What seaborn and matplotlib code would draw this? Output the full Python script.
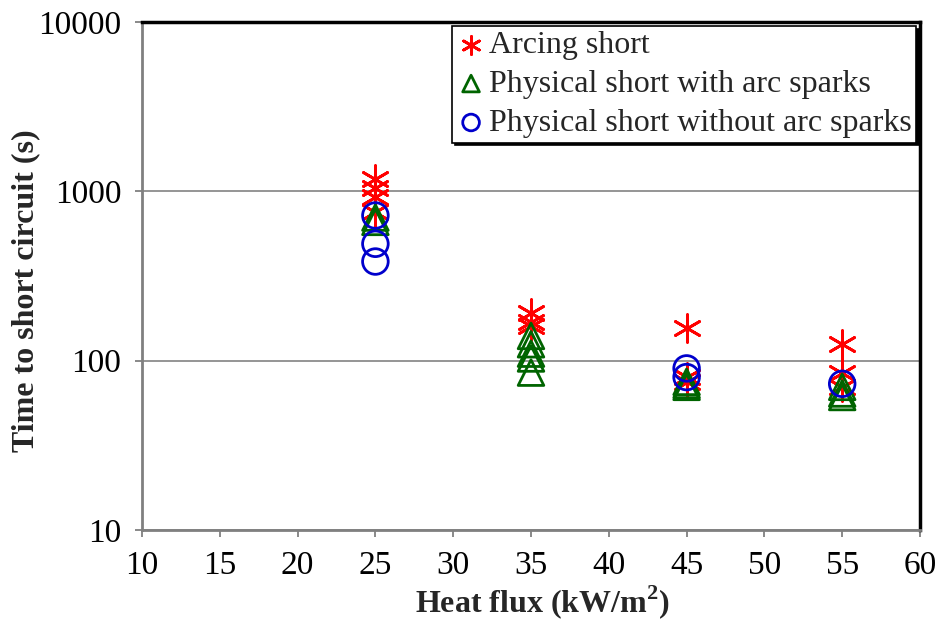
import matplotlib
matplotlib.use("Agg")
import matplotlib.pyplot as plt
import seaborn as sns
import pandas as pd

sns.set_theme(style="white")
plt.rcParams["font.family"] = ["Liberation Serif", "DejaVu Serif"]
plt.rcParams["mathtext.fontset"] = "custom"
plt.rcParams["mathtext.rm"] = "Liberation Serif"
plt.rcParams["mathtext.bf"] = "Liberation Serif:bold"

# Time to short circuit (s) by heat flux (kW/m2)
arcing_flux = [25, 25, 25, 25, 35, 35, 35, 45, 45, 45, 55, 55, 55]
arcing_time = [1180, 1050, 930, 760, 190, 170, 160, 155, 80, 75, 125, 85, 70]

sparks_flux = [25, 25, 35, 35, 35, 35, 35, 45, 45, 45, 55, 55, 55]
sparks_time = [700, 660, 140, 125, 110, 103, 85, 75, 72, 70, 70, 64, 61]

nospark_flux = [25, 25, 25, 45, 45, 55]
nospark_time = [720, 490, 385, 90, 80, 73]

series = ["Arcing short", "Physical short with arc sparks",
          "Physical short without arc sparks"]

df = pd.concat([
    pd.DataFrame({"flux": arcing_flux, "time": arcing_time, "type": series[0]}),
    pd.DataFrame({"flux": sparks_flux, "time": sparks_time, "type": series[1]}),
    pd.DataFrame({"flux": nospark_flux, "time": nospark_time, "type": series[2]}),
])

fig = plt.figure(figsize=(9.41, 6.19), dpi=100)
ax = fig.add_axes([142 / 941, 1 - 530 / 619, (920 - 142) / 941, (530 - 22) / 619])

ax.set_yscale("log")
ax.set_ylim(10, 10000)
ax.set_xlim(10, 60)

ax.yaxis.grid(True, which="major", color="#8c8c8c", linewidth=1.3)
ax.set_axisbelow(True)

size = 340
sub = df[df["type"] == series[0]]
sns.scatterplot(data=sub, x="flux", y="time", ax=ax, marker=(6, 2, 0),
                s=400, color="#ff0000", linewidth=2.0, label=series[0], zorder=3)
sub = df[df["type"] == series[1]]
sns.scatterplot(data=sub, x="flux", y="time", ax=ax, marker="^",
                s=size, facecolor="none", edgecolor="#006400", linewidth=2.0,
                label=series[1], zorder=4)
sub = df[df["type"] == series[2]]
sns.scatterplot(data=sub, x="flux", y="time", ax=ax, marker="o",
                s=size, facecolor="none", edgecolor="#0000cc", linewidth=2.0,
                label=series[2], zorder=5)

ax.set_xticks(range(10, 61, 5))
ax.set_yticks([10, 100, 1000, 10000])
ax.set_yticklabels(["10", "100", "1000", "10000"])
ax.yaxis.set_minor_locator(matplotlib.ticker.NullLocator())
ax.tick_params(axis="both", labelsize=24, colors="black", length=5,
               width=1.3, direction="out", color="#808080")
ax.tick_params(axis="x", bottom=True, pad=10)
ax.tick_params(axis="y", left=True, pad=10)

for side in ["left", "bottom"]:
    ax.spines[side].set_color("#808080")
    ax.spines[side].set_linewidth(2)
for side in ["top", "right"]:
    ax.spines[side].set_color("black")
    ax.spines[side].set_linewidth(2.5)

ax.set_xlabel("Heat flux (kW/m$^\\mathbf{2}$)", fontsize=23, fontweight="bold")
ax.xaxis.set_label_coords(0.515, -0.104)
ax.set_ylabel("Time to short circuit (s)", fontsize=23, fontweight="bold")
ax.yaxis.set_label_coords(-0.131, 0.472)

leg = ax.legend(loc="upper right", fontsize=23, frameon=True, fancybox=False,
                shadow={"color": "black", "alpha": 1}, borderaxespad=0.12,
                handletextpad=0.1, labelspacing=0.3, borderpad=0.15,
                markerscale=0.65, handlelength=0.9)
leg.get_frame().set_edgecolor("black")
leg.get_frame().set_linewidth(1.2)
leg.get_frame().set_alpha(1)

fig.savefig("out.png", dpi=100)
